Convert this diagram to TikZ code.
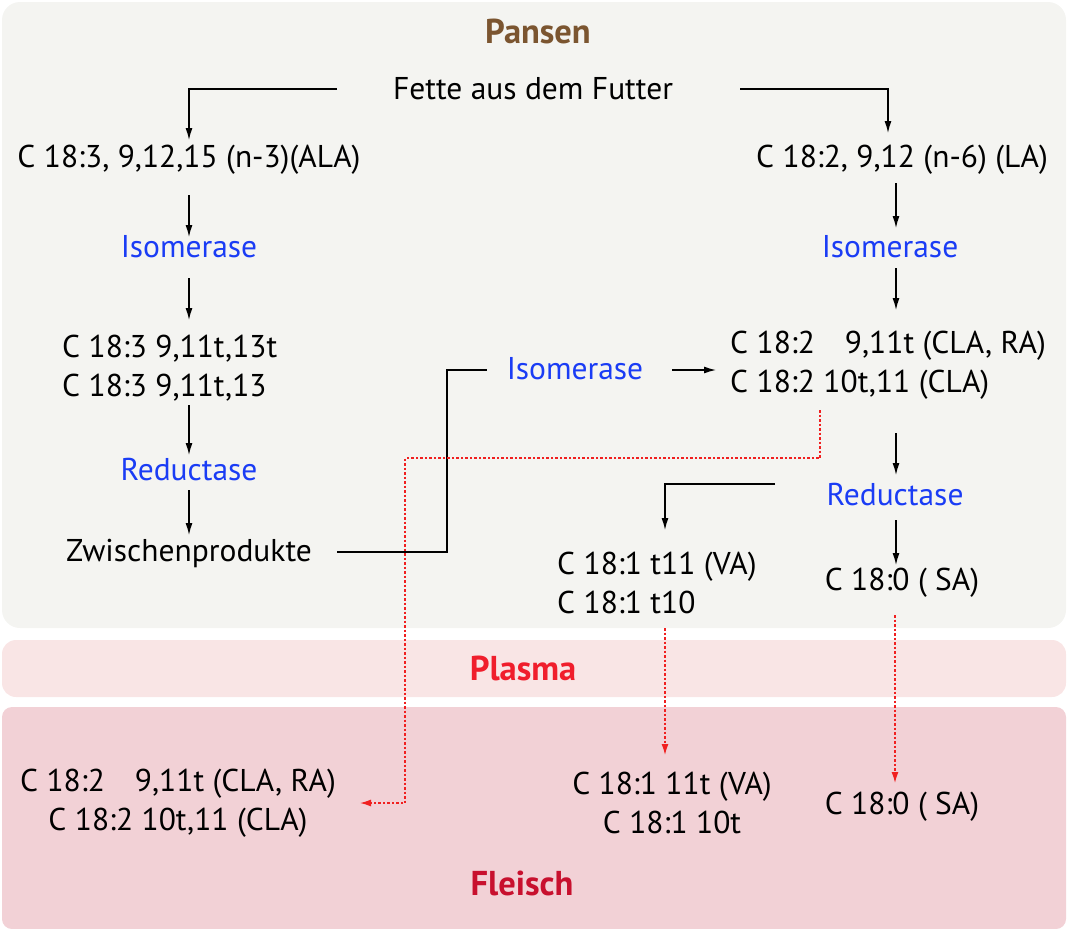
\documentclass[tikz,border=0pt]{standalone}
\usepackage{fontspec}
\setmainfont{PT Sans}
\usetikzlibrary{arrows.meta}
\definecolor{pansenbg}{HTML}{F4F4F1}
\definecolor{plasmabg}{HTML}{F9E5E5}
\definecolor{fleischbg}{HTML}{F2D1D6}
\definecolor{brownt}{HTML}{7B5530}
\definecolor{enzblue}{HTML}{1A3CF5}
\definecolor{plasmared}{HTML}{F01E2C}
\definecolor{fleischred}{HTML}{C8102E}
\definecolor{dotred}{HTML}{F02020}
\tikzset{
  txt/.style={inner sep=0pt, font=\fontsize{31.5}{39}\selectfont, text=black},
  enz/.style={txt, text=enzblue},
  head/.style={inner sep=0pt, font=\fontsize{34.5}{38}\selectfont\bfseries},
  conn/.style={draw=black, line width=1.3pt},
  arr/.style={conn, -{Latex[length=12pt,width=7pt]}},
  redarr/.style={draw=dotred, line width=1.3pt, dash pattern=on 2.5pt off 2pt, -{Latex[length=11pt,width=7pt]}},
}
\begin{document}
\begin{tikzpicture}[x=1pt,y=-1pt]
\useasboundingbox (0,0) rectangle (1071,929);
% backgrounds
\fill[pansenbg, rounded corners=18pt] (2,2) rectangle (1066,628);
\fill[plasmabg, rounded corners=14pt] (2,640) rectangle (1066,697);
\fill[fleischbg, rounded corners=10pt] (2,707) rectangle (1066,929);
% headings
\node[head, text=brownt] (pansen) at (538,31) {Pansen};
\node[head, text=plasmared] (plasma) at (523,668) {Plasma};
\node[head, text=fleischred] (fleisch) at (522,883) {Fleisch};
% nodes
\node[txt] (fette) at (533,89) {Fette aus dem Futter};
\node[txt] (ala) at (189,160) {C 18:3, 9,12,15 (n-3)(ALA)};
\node[txt] (la) at (902,160) {C 18:2, 9,12 (n-6) (LA)};
\node[enz] (isoL) at (189,247) {Isomerase};
\node[enz] (isoR) at (890,247) {Isomerase};
\node[txt, anchor=west, align=left] (c183) at (62,368) {C 18:3 9,11t,13t\\C 18:3 9,11t,13};
\node[enz] (redL) at (189,470) {Reductase};
\node[txt] (zw) at (189,553) {Zwischenprodukte};
\node[enz] (isoM) at (575,369) {Isomerase};
\node[txt, anchor=west, align=left] (c182) at (730,365) {C 18:2\hspace{30pt}9,11t (CLA, RA)\\C 18:2 10t,11 (CLA)};
\node[enz] (redR) at (895,495) {Reductase};
\node[txt, anchor=west, align=left] (c181) at (557,583) {C 18:1 t11 (VA)\\C 18:1 t10};
\node[txt] (c180) at (902,583) {C 18:0 ( SA)};
\node[txt, align=center] (f182) at (178,803) {C 18:2\hspace{30pt}9,11t (CLA, RA)\\C 18:2 10t,11 (CLA)};
\node[txt, align=center] (f181) at (672,803) {C 18:1 11t (VA)\\C 18:1 10t};
\node[txt] (f180) at (902,807) {C 18:0 ( SA)};
% coordinates
\coordinate (fL) at (337,89);
\coordinate (fR) at (740,89);
\coordinate (zwE) at (337,552);
\coordinate (isoMW) at (487,370);
\coordinate (redRW) at (775,484);
\coordinate (cla) at (820,410);
\coordinate (fcla) at (360,803);
% connectors
\draw[arr] (fL) -| (189,140);
\draw[arr] (fR) -| (888,133);
\draw[arr] (189,195) -- (189,237);
\draw[arr] (189,278) -- (189,320);
\draw[arr] (189,405) -- (189,455);
\draw[arr] (189,490) -- (189,535);
\draw[conn] (zwE) -- (447,552) -- (447,370) -- (isoMW);
\draw[arr] (672,370) -- (716,370);
\draw[arr] (896,183) -- (896,228);
\draw[arr] (896,268) -- (896,310);
\draw[arr] (896,433) -- (896,475);
\draw[arr] (redRW) -| (665,530);
\draw[arr] (896,520) -- (896,565);
% red dotted
\draw[redarr] (cla) -- (820,458) -- (405,458) -- (405,803) -- (fcla);
\draw[redarr] (665,628) -- (665,755);
\draw[redarr] (895,615) -- (895,783);
\end{tikzpicture}
\end{document}
